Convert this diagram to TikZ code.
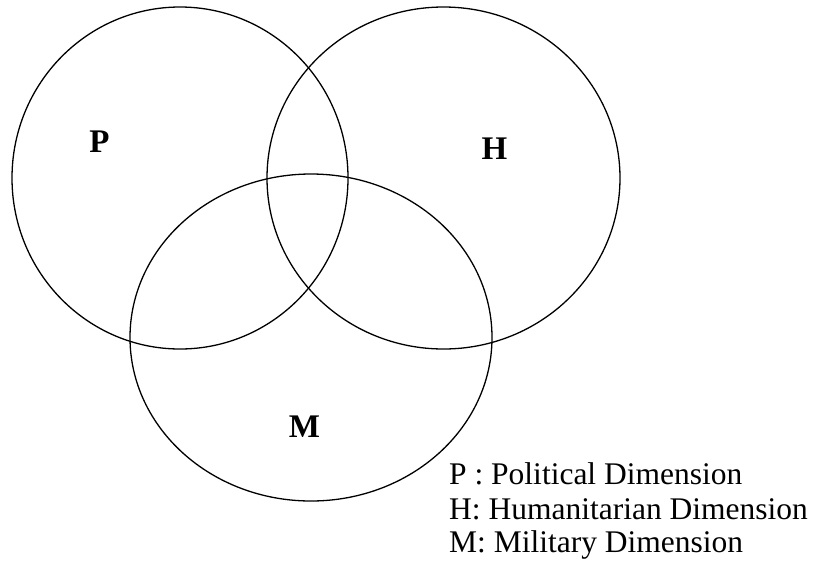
\documentclass[tikz,border=0pt]{standalone}
\usepackage{fontspec}
\setmainfont{Liberation Serif}
\usetikzlibrary{shapes.geometric}
\begin{document}
\begin{tikzpicture}[x=1pt,y=-1pt,
  ring/.style={draw=black, line width=1.3pt, ellipse, inner sep=0pt},
  setlabel/.style={font=\fontsize{33}{33}\selectfont\bfseries, inner sep=0pt, anchor=base},
  legendline/.style={font=\fontsize{31.5}{34}\selectfont, inner sep=0pt, anchor=base west}]
\useasboundingbox (0,0) rectangle (821,574);
\node[ring, minimum width=336pt, minimum height=342pt] (Pset) at (180,178) {};
\node[ring, minimum width=353pt, minimum height=342pt] (Hset) at (443.5,178) {};
\node[ring, minimum width=362pt, minimum height=327pt] (Mset) at (311,337.5) {};
\node[setlabel] (Plab) at (99.5,152) {P};
\node[setlabel] (Hlab) at (494.5,159) {H};
\node[setlabel] (Mlab) at (304.5,437) {M};
\node[legendline] (L1) at (449,484) {P : Political Dimension};
\node[legendline] (L2) at (449,519) {H: Humanitarian Dimension};
\node[legendline] (L3) at (449,552) {M: Military Dimension};
\end{tikzpicture}
\end{document}
